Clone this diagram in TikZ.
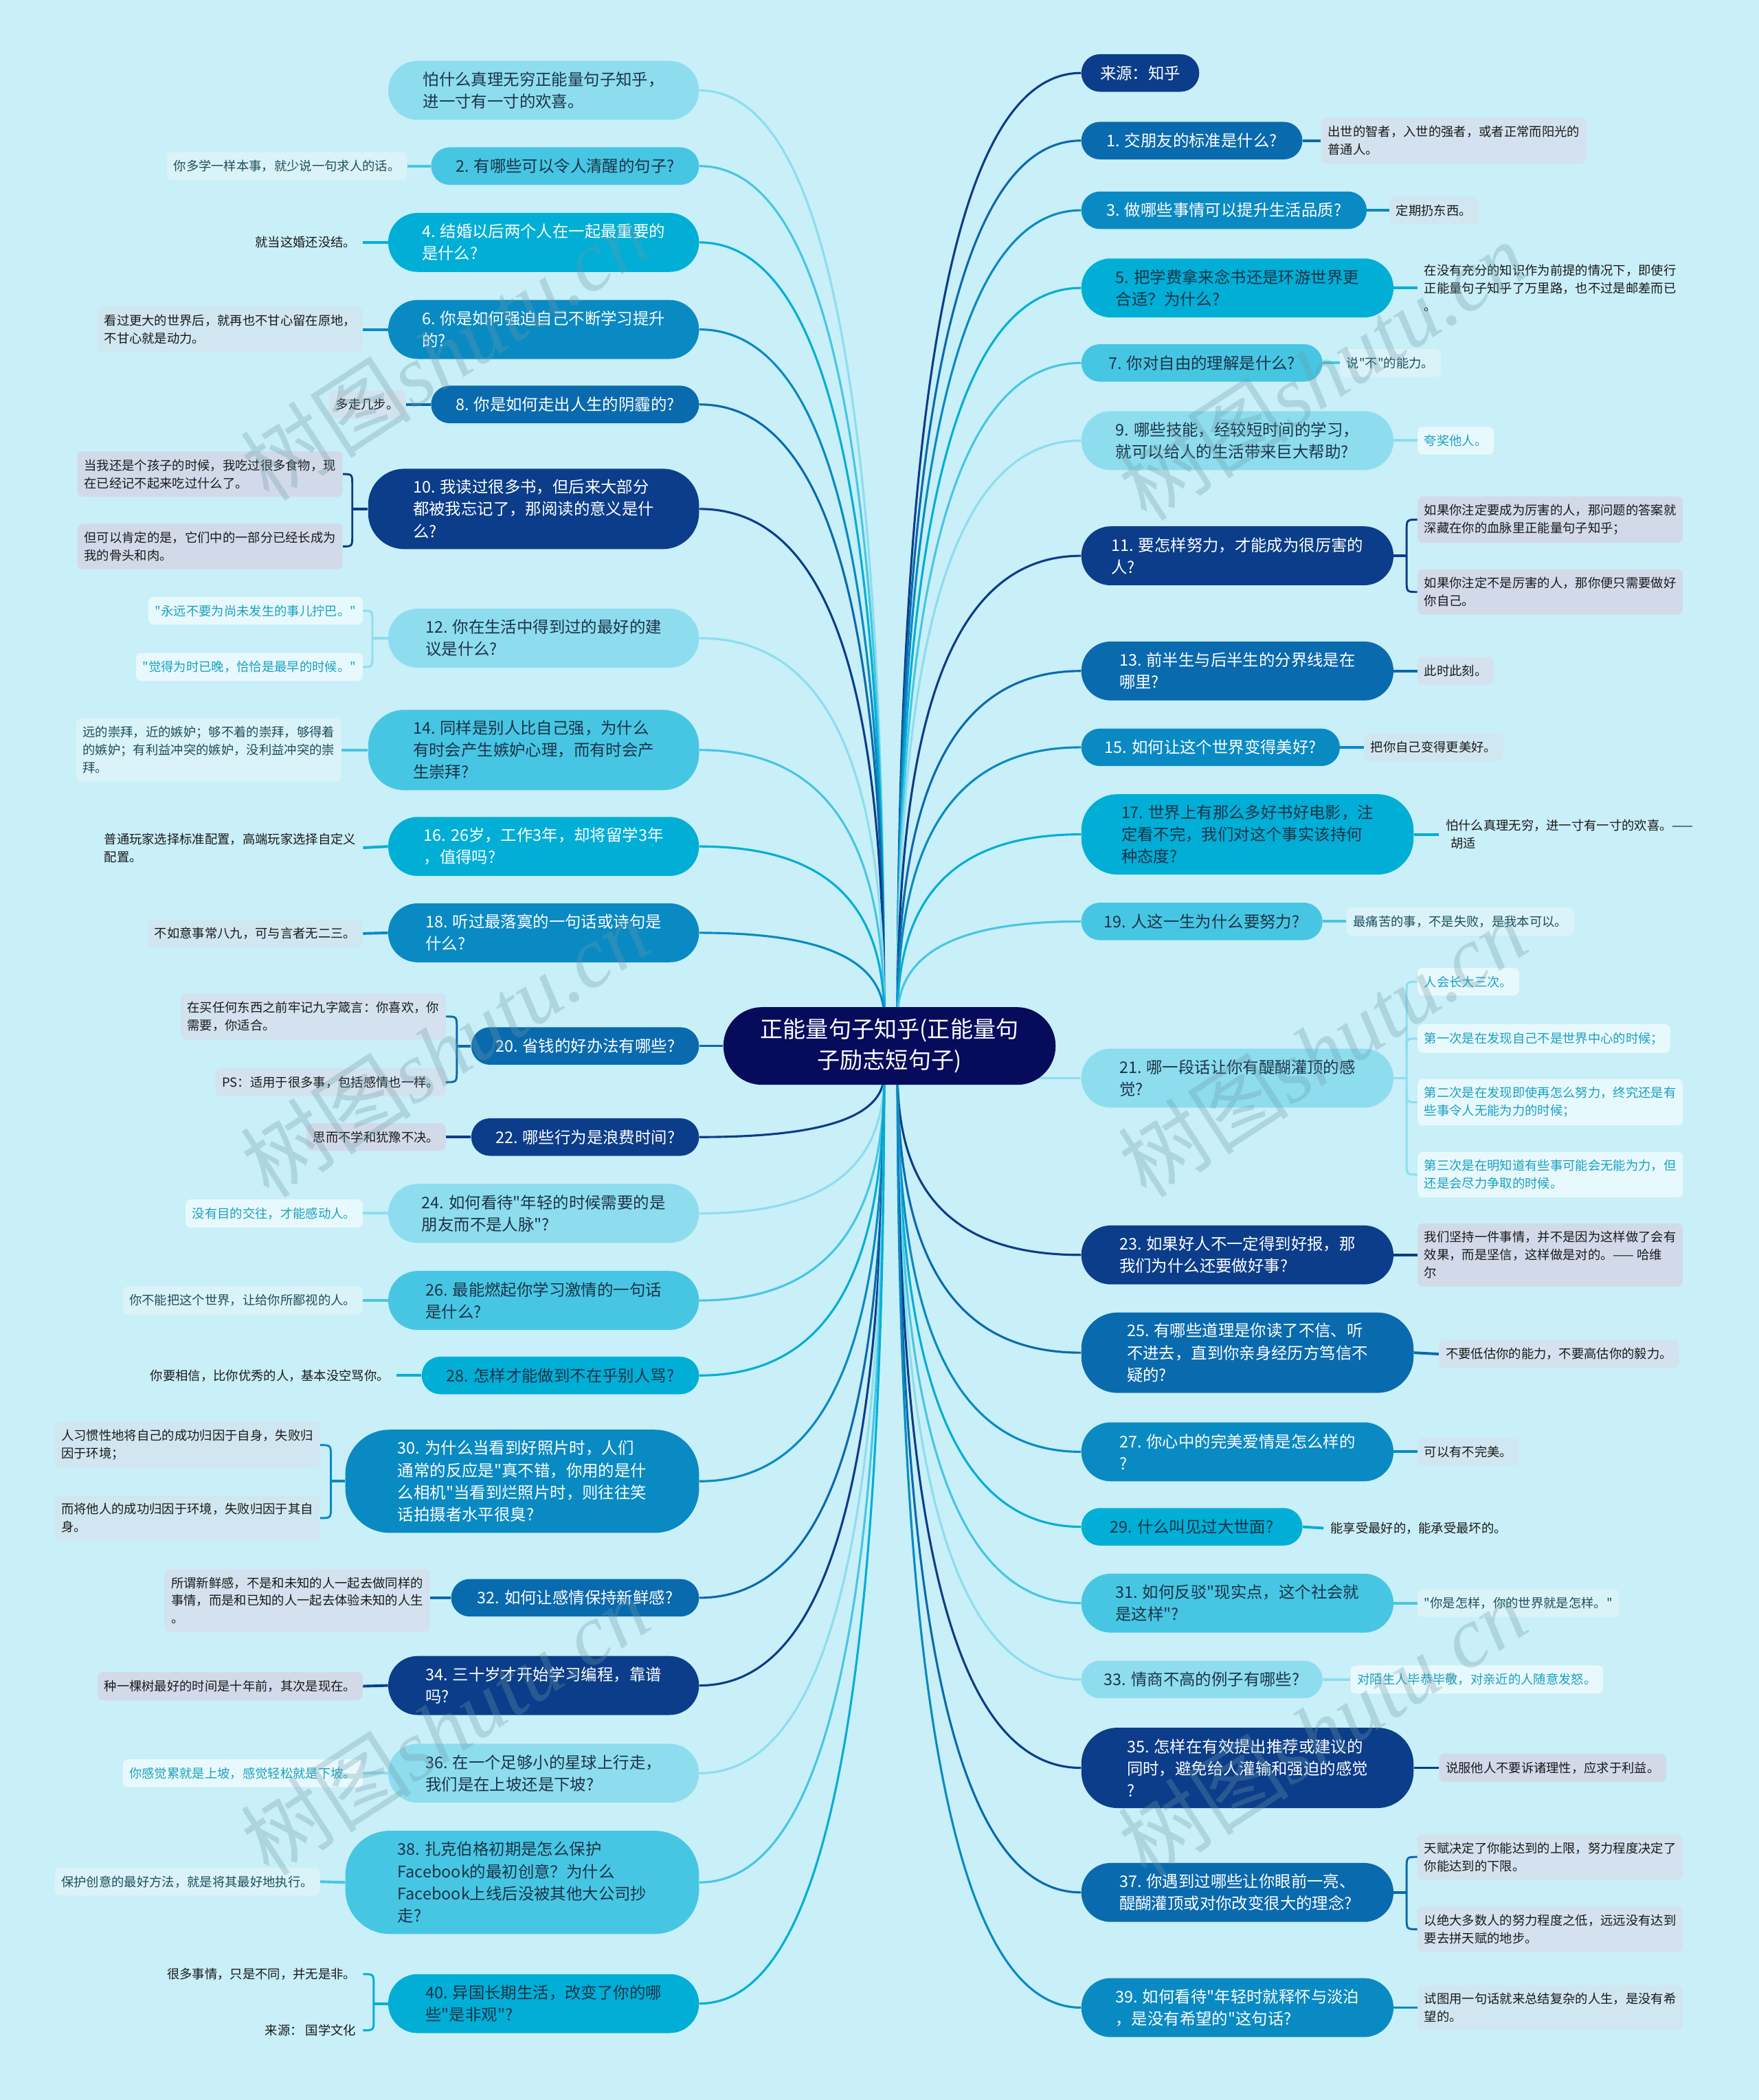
\documentclass[tikz,border=0pt]{standalone}
\usepackage{fontspec}
\newfontfamily\cjk{Noto Sans CJK SC}
\newfontfamily\wmser{Liberation Serif}
\usetikzlibrary{calc}
\definecolor{bgc}{HTML}{C9EFF8}
\definecolor{cctr}{HTML}{060B5C}
\definecolor{cdark}{HTML}{0B3D8A}
\definecolor{cmed}{HTML}{0A6AAE}
\definecolor{cmtwo}{HTML}{0A8AC3}
\definecolor{ccyan}{HTML}{00AED6}
\definecolor{clgt}{HTML}{47C6E3}
\definecolor{cpale}{HTML}{8DDDEF}
\definecolor{tdark}{HTML}{1C3347}
\definecolor{fdark}{HTML}{D2DAEA}
\definecolor{fmed}{HTML}{D3E2EE}
\definecolor{fmtwo}{HTML}{D0E7F1}
\definecolor{flgt}{HTML}{DAF3F9}
\definecolor{fpale}{HTML}{E8F9FD}
\definecolor{tteal}{HTML}{1AA0C0}
\definecolor{tlgt}{HTML}{1F4E5C}
\definecolor{tleaf}{HTML}{1A1A1A}
\definecolor{wmc}{HTML}{6E9AA6}
\pgfdeclarelayer{bgl}
\pgfdeclarelayer{lines}
\pgfsetlayers{bgl,lines,main}
\tikzset{
 qn/.style={align=left, inner sep=0pt, font=\cjk\fontsize{12}{16.5}\selectfont},
 one/.style={minimum height=28pt, rounded corners=13.9pt},
 two/.style={minimum height=44pt, rounded corners=21.9pt},
 three/.style={minimum height=60pt, rounded corners=27pt},
 four/.style={minimum height=77pt, rounded corners=33pt},
 dk/.style={fill=cdark,text=white},
 md/.style={fill=cmed,text=white},
 mt/.style={fill=cmtwo,text=white},
 cy/.style={fill=ccyan,text=tdark},
 cyw/.style={fill=ccyan,text=white},
 lg/.style={fill=clgt,text=tdark},
 pl/.style={fill=cpale,text=tdark},
 lf/.style={align=left, inner xsep=5pt, inner ysep=6pt, rounded corners=4pt, font=\cjk\fontsize{9.4}{13.3}\selectfont, text=tleaf},
 lfdk/.style={lf, fill=fdark},
 lfmd/.style={lf, fill=fmed},
 lfmt/.style={lf, fill=fmtwo},
 lfcy/.style={lf},
 lflg/.style={lf, fill=flgt, text=tlgt},
 lfpl/.style={lf, fill=fpale, text=tteal},
 con/.style={line width=1.6pt},
 lcon/.style={line width=2pt},
 bcon/.style={line width=1.5pt},
 wm/.style={text=wmc, opacity=0.3, rotate=33, inner sep=0pt},
}
\newcommand{\clink}[3]{%
 \coordinate (kk) at (#2 |- #3);
 \draw[con,#1] (#2) .. controls ($(#2)!0.75!(kk)$) and ($(#3)!0.6!(kk)$) .. (#3);}
\newcommand{\brakL}[5]{%
 \coordinate (jx) at (#5,0);
 \draw[bcon,#1] (#3.east) .. controls (jx |- #3.east) .. ($(jx |- #3.east)+(0,9)$) -- ($(jx |- #4.east)+(0,-9)$) .. controls (jx |- #4.east) .. (#4.east);
 \draw[lcon,#1] (jx |- #2.west) -- (#2.west);}
\newcommand{\brakR}[5]{%
 \coordinate (jx) at (#5,0);
 \draw[bcon,#1] (#3.west) .. controls (jx |- #3.west) .. ($(jx |- #3.west)+(0,9)$) -- ($(jx |- #4.west)+(0,-9)$) .. controls (jx |- #4.west) .. (#4.west);
 \draw[lcon,#1] (#2.east) -- (jx |- #2.east);}
\begin{document}
\begin{tikzpicture}[x=1pt,y=-1pt]
\begin{pgfonlayer}{bgl}
\fill[bgc] (0,0) rectangle (1313,1568);
\end{pgfonlayer}
\useasboundingbox (0,0) rectangle (1313,1568);

% centre
\node[fill=cctr, text=white, rounded corners=28.9pt, minimum width=248pt, minimum height=58pt, align=center, inner sep=0pt, font=\cjk\fontsize{17}{23}\selectfont] (C) at (664,781) {正能量句子知乎(正能量句\\子励志短句子)};

% left branch nodes
\node[qn,two,pl,minimum width=232pt,anchor=east] (L0) at (522,67.5) {怕什么真理无穷正能量句子知乎，\\进一寸有一寸的欢喜。};
\node[qn,one,lg,minimum width=200pt,anchor=east] (L2) at (522,124) {2. 有哪些可以令人清醒的句子?};
\node[qn,two,cyw,minimum width=232pt,anchor=east] (L4) at (522,181) {4. 结婚以后两个人在一起最重要的\\是什么?};
\node[qn,two,mt,minimum width=232pt,anchor=east] (L6) at (522,246) {6. 你是如何强迫自己不断学习提升\\的?};
\node[qn,one,md,minimum width=200pt,anchor=east] (L8) at (522,302) {8. 你是如何走出人生的阴霾的?};
\node[qn,three,dk,minimum width=247pt,anchor=east] (L10) at (522,380) {10. 我读过很多书，但后来大部分\\都被我忘记了，那阅读的意义是什\\么?};
\node[qn,two,pl,minimum width=232pt,anchor=east] (L12) at (522,476.5) {12. 你在生活中得到过的最好的建\\议是什么?};
\node[qn,three,lg,minimum width=247pt,anchor=east] (L14) at (522,560) {14. 同样是别人比自己强，为什么\\有时会产生嫉妒心理，而有时会产\\生崇拜?};
\node[qn,two,cyw,minimum width=232pt,anchor=east] (L16) at (522,632) {16. 26岁，工作3年，却将留学3年\\，值得吗?};
\node[qn,two,mt,minimum width=232pt,anchor=east] (L18) at (522,696.5) {18. 听过最落寞的一句话或诗句是\\什么?};
\node[qn,one,md,minimum width=170pt,anchor=east] (L20) at (522,781) {20. 省钱的好办法有哪些?};
\node[qn,one,dk,minimum width=170pt,anchor=east] (L22) at (522,849) {22. 哪些行为是浪费时间?};
\node[qn,two,pl,minimum width=232pt,anchor=east] (L24) at (522,906) {24. 如何看待"年轻的时候需要的是\\朋友而不是人脉"?};
\node[qn,two,lg,minimum width=232pt,anchor=east] (L26) at (522,971) {26. 最能燃起你学习激情的一句话\\是什么?};
\node[qn,one,cy,minimum width=207pt,anchor=east] (L28) at (522,1027) {28. 怎样才能做到不在乎别人骂?};
\node[qn,four,mt,minimum width=264pt,anchor=east] (L30) at (522,1106) {30. 为什么当看到好照片时，人们\\通常的反应是"真不错，你用的是什\\么相机"当看到烂照片时，则往往笑\\话拍摄者水平很臭?};
\node[qn,one,md,minimum width=185pt,anchor=east] (L32) at (522,1193) {32. 如何让感情保持新鲜感?};
\node[qn,two,dk,minimum width=232pt,anchor=east] (L34) at (522,1258.5) {34. 三十岁才开始学习编程，靠谱\\吗?};
\node[qn,two,pl,minimum width=232pt,anchor=east] (L36) at (522,1324) {36. 在一个足够小的星球上行走，\\我们是在上坡还是下坡?};
\node[qn,four,lg,minimum width=264pt,anchor=east] (L38) at (522,1405.5) {38. 扎克伯格初期是怎么保护\\Facebook的最初创意？为什么\\Facebook上线后没被其他大公司抄\\走?};
\node[qn,two,cy,minimum width=232pt,anchor=east] (L40) at (522,1496) {40. 异国长期生活，改变了你的哪\\些"是非观"?};

% right branch nodes
\node[qn,one,dk,minimum width=88pt,anchor=west] (R0) at (807,54.5) {来源：知乎};
\node[qn,one,md,minimum width=165pt,anchor=west] (R1) at (807,105) {1. 交朋友的标准是什么?};
\node[qn,one,mt,minimum width=213pt,anchor=west] (R3) at (807,157) {3. 做哪些事情可以提升生活品质?};
\node[qn,two,cy,minimum width=233pt,anchor=west] (R5) at (807,215) {5. 把学费拿来念书还是环游世界更\\合适？为什么?};
\node[qn,one,lg,minimum width=180pt,anchor=west] (R7) at (807,271) {7. 你对自由的理解是什么?};
\node[qn,two,pl,minimum width=233pt,anchor=west] (R9) at (807,329) {9. 哪些技能，经较短时间的学习，\\就可以给人的生活带来巨大帮助?};
\node[qn,two,dk,minimum width=233pt,anchor=west] (R11) at (807,415) {11. 要怎样努力，才能成为很厉害的\\人?};
\node[qn,two,md,minimum width=233pt,anchor=west] (R13) at (807,501) {13. 前半生与后半生的分界线是在\\哪里?};
\node[qn,one,mt,minimum width=193pt,anchor=west] (R15) at (807,558) {15. 如何让这个世界变得美好?};
\node[qn,three,cy,minimum width=248pt,anchor=west] (R17) at (807,623) {17. 世界上有那么多好书好电影，注\\定看不完，我们对这个事实该持何\\种态度?};
\node[qn,one,lg,minimum width=180pt,anchor=west] (R19) at (807,688) {19. 人这一生为什么要努力?};
\node[qn,two,pl,minimum width=233pt,anchor=west] (R21) at (807,805) {21. 哪一段话让你有醍醐灌顶的感\\觉?};
\node[qn,two,dk,minimum width=233pt,anchor=west] (R23) at (807,937) {23. 如果好人不一定得到好报，那\\我们为什么还要做好事?};
\node[qn,three,md,minimum width=248pt,anchor=west] (R25) at (807,1010) {25. 有哪些道理是你读了不信、听\\不进去，直到你亲身经历方笃信不\\疑的?};
\node[qn,two,mt,minimum width=233pt,anchor=west] (R27) at (807,1084) {27. 你心中的完美爱情是怎么样的\\?};
\node[qn,one,cy,minimum width=165pt,anchor=west] (R29) at (807,1140) {29. 什么叫见过大世面?};
\node[qn,two,lg,minimum width=233pt,anchor=west] (R31) at (807,1197) {31. 如何反驳"现实点，这个社会就\\是这样"?};
\node[qn,one,pl,minimum width=180pt,anchor=west] (R33) at (807,1254) {33. 情商不高的例子有哪些?};
\node[qn,three,dk,minimum width=248pt,anchor=west] (R35) at (807,1320) {35. 怎样在有效提出推荐或建议的\\同时，避免给人灌输和强迫的感觉\\?};
\node[qn,two,md,minimum width=233pt,anchor=west] (R37) at (807,1413) {37. 你遇到过哪些让你眼前一亮、\\醍醐灌顶或对你改变很大的理念?};
\node[qn,two,mt,minimum width=233pt,anchor=west] (R39) at (807,1499) {39. 如何看待"年轻时就释怀与淡泊\\，是没有希望的"这句话?};

% left leaves
\node[lflg,anchor=east] (l2) at (304,124) {你多学一样本事，就少说一句求人的话。};
\node[lfcy,anchor=east] (l4) at (271,181) {就当这婚还没结。};
\node[lfmt,anchor=east] (l6) at (271,246) {看过更大的世界后，就再也不甘心留在原地，\\不甘心就是动力。};
\node[lfmd,anchor=east] (l8) at (303,302) {多走几步。};
\node[lfdk,anchor=east] (l10a) at (256,354) {当我还是个孩子的时候，我吃过很多食物，现\\在已经记不起来吃过什么了。};
\node[lfdk,anchor=east] (l10b) at (256,408) {但可以肯定的是，它们中的一部分已经长成为\\我的骨头和肉。};
\node[lfpl,anchor=east] (l12a) at (271,456) {"永远不要为尚未发生的事儿拧巴。"};
\node[lfpl,anchor=east] (l12b) at (271,498) {"觉得为时已晚，恰恰是最早的时候。"};
\node[lflg,anchor=east] (l14) at (255,560) {远的崇拜，近的嫉妒；够不着的崇拜，够得着\\的嫉妒；有利益冲突的嫉妒，没利益冲突的崇\\拜。};
\node[lfcy,anchor=east] (l16) at (271,633) {普通玩家选择标准配置，高端玩家选择自定义\\配置。};
\node[lfmt,anchor=east] (l18) at (271,697) {不如意事常八九，可与言者无二三。};
\node[lfmd,anchor=east] (l20a) at (333,759) {在买任何东西之前牢记九字箴言：你喜欢，你\\需要，你适合。};
\node[lfmd,anchor=east] (l20b) at (333,808) {PS：适用于很多事，包括感情也一样。};
\node[lfdk,anchor=east] (l22) at (333,849) {思而不学和犹豫不决。};
\node[lfpl,anchor=east] (l24) at (271,906) {没有目的交往，才能感动人。};
\node[lflg,anchor=east] (l26) at (271,971) {你不能把这个世界，让给你所鄙视的人。};
\node[lfcy,anchor=east] (l28) at (296,1027) {你要相信，比你优秀的人，基本没空骂你。};
\node[lfmt,anchor=east] (l30a) at (239,1079) {人习惯性地将自己的成功归因于自身，失败归\\因于环境；};
\node[lfmt,anchor=east] (l30b) at (239,1133.5) {而将他人的成功归因于环境，失败归因于其自\\身。};
\node[lfmd,anchor=east] (l32) at (321,1195) {所谓新鲜感，不是和未知的人一起去做同样的\\事情，而是和已知的人一起去体验未知的人生\\。};
\node[lfdk,anchor=east] (l34) at (271,1259) {种一棵树最好的时间是十年前，其次是现在。};
\node[lfpl,anchor=east] (l36) at (271,1324) {你感觉累就是上坡，感觉轻松就是下坡。};
\node[lflg,anchor=east] (l38) at (239,1405) {保护创意的最好方法，就是将其最好地执行。};
\node[lfcy,anchor=east] (l40a) at (271,1474) {很多事情，只是不同，并无是非。};
\node[lfcy,anchor=east] (l40b) at (271,1516) {来源： 国学文化};

% right leaves
\node[lfmd,anchor=west] (r1) at (986,105) {出世的智者，入世的强者，或者正常而阳光的\\普通人。};
\node[lfmt,anchor=west] (r3) at (1037,157) {定期扔东西。};
\node[lfcy,anchor=west] (r5) at (1058,215) {在没有充分的知识作为前提的情况下，即使行\\正能量句子知乎了万里路，也不过是邮差而已\\。};
\node[lflg,anchor=west] (r7) at (1000,271) {说"不"的能力。};
\node[lfpl,anchor=west] (r9) at (1058,329) {夸奖他人。};
\node[lfdk,anchor=west] (r11a) at (1058,388) {如果你注定要成为厉害的人，那问题的答案就\\深藏在你的血脉里正能量句子知乎；};
\node[lfdk,anchor=west] (r11b) at (1058,442) {如果你注定不是厉害的人，那你便只需要做好\\你自己。};
\node[lfmd,anchor=west] (r13) at (1058,501) {此时此刻。};
\node[lfmt,anchor=west] (r15) at (1018,558) {把你自己变得更美好。};
\node[lfcy,anchor=west] (r17) at (1074,623) {怕什么真理无穷，进一寸有一寸的欢喜。——\\\hspace*{0.4em}胡适};
\node[lflg,anchor=west] (r19) at (1005,688) {最痛苦的事，不是失败，是我本可以。};
\node[lfpl,anchor=west] (r21a) at (1058,733) {人会长大三次。};
\node[lfpl,anchor=west] (r21b) at (1058,775.5) {第一次是在发现自己不是世界中心的时候；};
\node[lfpl,anchor=west] (r21c) at (1058,823) {第二次是在发现即使再怎么努力，终究还是有\\些事令人无能为力的时候；};
\node[lfpl,anchor=west] (r21d) at (1058,877) {第三次是在明知道有些事可能会无能为力，但\\还是会尽力争取的时候。};
\node[lfdk,anchor=west] (r23) at (1058,937) {我们坚持一件事情，并不是因为这样做了会有\\效果，而是坚信，这样做是对的。—— 哈维\\尔};
\node[lfmd,anchor=west] (r25) at (1074,1011) {不要低估你的能力，不要高估你的毅力。};
\node[lfmt,anchor=west] (r27) at (1058,1084) {可以有不完美。};
\node[lfcy,anchor=west] (r29) at (988,1141) {能享受最好的，能承受最坏的。};
\node[lflg,anchor=west] (r31) at (1058,1197) {"你是怎样，你的世界就是怎样。"};
\node[lfpl,anchor=west] (r33) at (1008,1254) {对陌生人毕恭毕敬，对亲近的人随意发怒。};
\node[lfdk,anchor=west] (r35) at (1074,1320) {说服他人不要诉诸理性，应求于利益。};
\node[lfmd,anchor=west] (r37a) at (1058,1386.5) {天赋决定了你能达到的上限，努力程度决定了\\你能达到的下限。};
\node[lfmd,anchor=west] (r37b) at (1058,1440.5) {以绝大多数人的努力程度之低，远远没有达到\\要去拼天赋的地步。};
\node[lfmt,anchor=west] (r39) at (1058,1499) {试图用一句话就来总结复杂的人生，是没有希\\望的。};

\begin{pgfonlayer}{lines}
\coordinate (SUL) at (660,760);
\coordinate (SUR) at (670,760);
\coordinate (SLL) at (660,802);
\coordinate (SLR) at (670,802);
\coordinate (SRE) at (770,805);
% centre to left
\clink{cpale}{SUL}{L0.east}
\clink{clgt}{SUL}{L2.east}
\clink{ccyan}{SUL}{L4.east}
\clink{cmtwo}{SUL}{L6.east}
\clink{cmed}{SUL}{L8.east}
\clink{cdark}{SUL}{L10.east}
\clink{cpale}{SUL}{L12.east}
\clink{clgt}{SUL}{L14.east}
\clink{ccyan}{SUL}{L16.east}
\clink{cmtwo}{SUL}{L18.east}
\draw[con,cmed] (C.west) -- (L20.east);
\clink{cdark}{SLL}{L22.east}
\clink{cpale}{SLL}{L24.east}
\clink{clgt}{SLL}{L26.east}
\clink{ccyan}{SLL}{L28.east}
\clink{cmtwo}{SLL}{L30.east}
\clink{cmed}{SLL}{L32.east}
\clink{cdark}{SLL}{L34.east}
\clink{cpale}{SLL}{L36.east}
\clink{clgt}{SLL}{L38.east}
\clink{ccyan}{SLL}{L40.east}
% centre to right
\clink{cdark}{SUR}{R0.west}
\clink{cmed}{SUR}{R1.west}
\clink{cmtwo}{SUR}{R3.west}
\clink{ccyan}{SUR}{R5.west}
\clink{clgt}{SUR}{R7.west}
\clink{cpale}{SUR}{R9.west}
\clink{cdark}{SUR}{R11.west}
\clink{cmed}{SUR}{R13.west}
\clink{cmtwo}{SUR}{R15.west}
\clink{ccyan}{SUR}{R17.west}
\clink{clgt}{SUR}{R19.west}
\draw[con,cpale] (SRE) -- (R21.west);
\clink{cdark}{SLR}{R23.west}
\clink{cmed}{SLR}{R25.west}
\clink{cmtwo}{SLR}{R27.west}
\clink{ccyan}{SLR}{R29.west}
\clink{clgt}{SLR}{R31.west}
\clink{cpale}{SLR}{R33.west}
\clink{cdark}{SLR}{R35.west}
\clink{cmed}{SLR}{R37.west}
\clink{cmtwo}{SLR}{R39.west}
% leaf connectors left
\draw[lcon,clgt] (L2.west) -- (l2.east);
\draw[lcon,ccyan] (L4.west) -- (l4.east);
\draw[lcon,cmtwo] (L6.west) -- (l6.east);
\draw[lcon,cmed] (L8.west) -- (l8.east);
\brakL{cdark}{L10}{l10a}{l10b}{263}
\brakL{cpale}{L12}{l12a}{l12b}{278}
\draw[lcon,clgt] (L14.west) -- (l14.east);
\draw[lcon,ccyan] (L16.west) -- (l16.east);
\draw[lcon,cmtwo] (L18.west) -- (l18.east);
\brakL{cmed}{L20}{l20a}{l20b}{341}
\draw[lcon,cdark] (L22.west) -- (l22.east);
\draw[lcon,cpale] (L24.west) -- (l24.east);
\draw[lcon,clgt] (L26.west) -- (l26.east);
\draw[lcon,ccyan] (L28.west) -- (l28.east);
\brakL{cmtwo}{L30}{l30a}{l30b}{247}
\draw[lcon,cmed] (L32.west) -- (l32.east |- L32.west);
\draw[lcon,cdark] (L34.west) -- (l34.east);
\draw[lcon,cpale] (L36.west) -- (l36.east);
\draw[lcon,clgt] (L38.west) -- (l38.east);
\brakL{ccyan}{L40}{l40a}{l40b}{279}
% leaf connectors right
\draw[lcon,cmed] (R1.east) -- (r1.west);
\draw[lcon,cmtwo] (R3.east) -- (r3.west);
\draw[lcon,ccyan] (R5.east) -- (r5.west);
\draw[lcon,clgt] (R7.east) -- (r7.west);
\draw[lcon,cpale] (R9.east) -- (r9.west);
\brakR{cdark}{R11}{r11a}{r11b}{1050}
\draw[lcon,cmed] (R13.east) -- (r13.west);
\draw[lcon,cmtwo] (R15.east) -- (r15.west);
\draw[lcon,ccyan] (R17.east) -- (r17.west);
\draw[lcon,clgt] (R19.east) -- (r19.west);
\brakR{cpale}{R21}{r21a}{r21d}{1050}
\draw[bcon,cpale] ($(jx |- r21b.west)+(0,9)$) .. controls (jx |- r21b.west) .. (r21b.west);
\draw[bcon,cpale] ($(jx |- r21c.west)+(0,-9)$) .. controls (jx |- r21c.west) .. (r21c.west);
\draw[lcon,cdark] (R23.east) -- (r23.west);
\draw[lcon,cmed] (R25.east) -- (r25.west);
\draw[lcon,cmtwo] (R27.east) -- (r27.west);
\draw[lcon,ccyan] (R29.east) -- (r29.west);
\draw[lcon,clgt] (R31.east) -- (r31.west);
\draw[lcon,cpale] (R33.east) -- (r33.west);
\draw[lcon,cdark] (R35.east) -- (r35.west);
\brakR{cmed}{R37}{r37a}{r37b}{1050}
\draw[lcon,cmtwo] (R39.east) -- (r39.west);
\end{pgfonlayer}

% watermarks
\node[wm] (wm1) at (332,262) {\cjk\fontsize{64}{64}\selectfont 树图\wmser\itshape shutu.cn};
\node[wm] (wm2) at (987,277) {\cjk\fontsize{64}{64}\selectfont 树图\wmser\itshape shutu.cn};
\node[wm] (wm3) at (332,782) {\cjk\fontsize{64}{64}\selectfont 树图\wmser\itshape shutu.cn};
\node[wm] (wm4) at (987,782) {\cjk\fontsize{64}{64}\selectfont 树图\wmser\itshape shutu.cn};
\node[wm] (wm5) at (332,1288) {\cjk\fontsize{64}{64}\selectfont 树图\wmser\itshape shutu.cn};
\node[wm] (wm6) at (987,1290) {\cjk\fontsize{64}{64}\selectfont 树图\wmser\itshape shutu.cn};
\end{tikzpicture}
\end{document}
